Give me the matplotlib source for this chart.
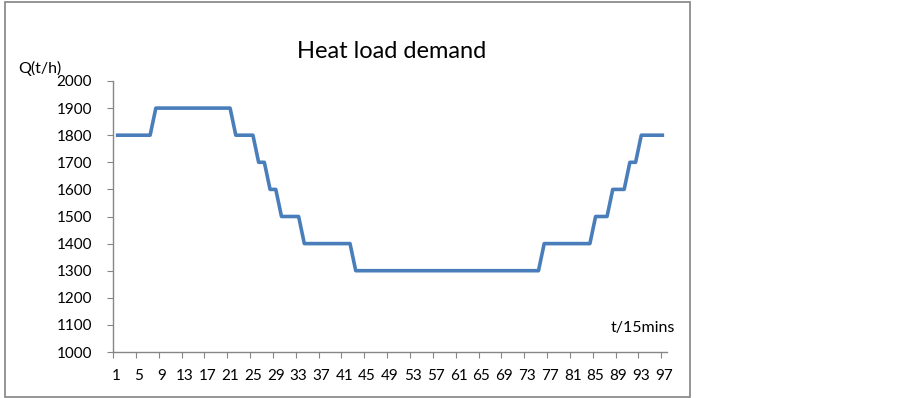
import numpy as np
import matplotlib.pyplot as plt
from matplotlib.patches import Rectangle

# Heat load demand, one value per 15 min slot (1..97)
levels = [1800, 1900, 1800, 1700, 1600, 1500, 1400, 1300, 1400, 1500, 1600, 1700, 1800]
counts = [7, 14, 4, 2, 2, 4, 9, 33, 9, 3, 3, 2, 5]
demand = np.repeat(levels, counts)
slots = np.arange(1, len(demand) + 1)

y_ticks = list(range(1000, 2001, 100))
x_labels = slots[::4]

plt.rcParams['font.family'] = ['Lato', 'DejaVu Sans']

W, H = 903, 398
fig = plt.figure(figsize=(W / 100, H / 100), dpi=100)
ax = fig.add_axes([113 / W, 1 - 352 / H, (667 - 113) / W, (352 - 81) / H])

ax.plot(slots, demand, color='#4a7ebb', lw=2.6, solid_joinstyle='round', solid_capstyle='butt')

ax.set_xlim(0.5, len(slots) + 0.5)
ax.set_ylim(1000, 2000)

# axes styling (Excel-like)
for s in ['top', 'right']:
    ax.spines[s].set_visible(False)
for s in ['left', 'bottom']:
    ax.spines[s].set_color('#868686')
    ax.spines[s].set_linewidth(1.0)

ax.set_yticks(y_ticks)
ax.tick_params(axis='y', length=4, color='#868686', pad=11, labelsize=11)

ax.set_xticks(np.arange(0.5, len(slots), 4))
ax.set_xticklabels([])
ax.set_xticks(x_labels, [str(v) for v in x_labels], minor=True)
ax.tick_params(axis='x', which='major', length=4, color='#868686')
ax.tick_params(axis='x', which='minor', length=0, pad=12, labelsize=11)

# texts
fig.text(391.5 / W, 1 - 58 / H, 'Heat load demand', ha='center', va='baseline', fontsize=17)
fig.text(18 / W, 1 - 68 / H, 'Q(t/h)', ha='left', va='center', fontsize=11.5)
fig.text(675 / W, 1 - 328 / H, 't/15mins', ha='right', va='center', fontsize=11.5)

# chart area border
fig.add_artist(Rectangle((5 / W, 1 / H), (690 - 5) / W, (397 - 2) / H, transform=fig.transFigure,
                         fill=False, edgecolor='#8c8c8c', lw=1.3))

fig.savefig('out.png', dpi=100)
